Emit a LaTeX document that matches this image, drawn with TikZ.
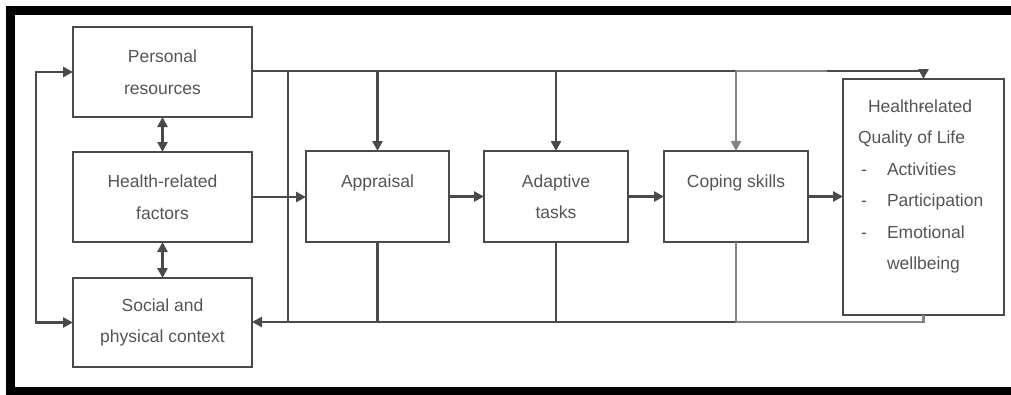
\documentclass[tikz,border=0pt]{standalone}
\usepackage{fontspec}
\setmainfont{Liberation Sans}
\usetikzlibrary{arrows.meta}
\definecolor{linegray}{HTML}{4A4A4A}
\definecolor{lightline}{HTML}{858585}
\definecolor{textgray}{HTML}{555555}
\begin{document}
\begin{tikzpicture}[x=1pt,y=-1pt,
  box/.style={draw=linegray, line width=2.5pt, fill=white, anchor=north west,
    inner sep=0pt, outer sep=0pt, align=center, text=textgray,
    font=\fontsize{17.5}{31.5}\selectfont},
  link/.style={draw=linegray, line width=2.5pt},
  lightlink/.style={draw=lightline, line width=2.5pt},
  tip/.style={-{Triangle[length=10pt,width=10pt]}},
  bothtips/.style={{Triangle[length=10pt,width=10pt]}-{Triangle[length=10pt,width=10pt]}},
  label/.style={text=textgray, inner sep=0pt, outer sep=0pt, align=left,
    font=\fontsize{17.5}{31.5}\selectfont}]
\useasboundingbox (0,0) rectangle (1011,394);
% outer frame, open on the right
\draw[black, line width=8.5pt] (1030,10.5) -- (10.5,10.5) -- (10.5,391) -- (1030,391);

% boxes
\node[box, minimum width=179pt, minimum height=90pt] (personal) at (73,27) {Personal\\resources};
\node[box, minimum width=179pt, minimum height=90pt] (health) at (73,152) {Health-related\\factors};
\node[box, minimum width=179pt, minimum height=89pt] (social) at (73,278) {Social and\\physical context};
\node[box, minimum width=143pt, minimum height=91pt] (appraisal) at (306,151) {Appraisal\\\mbox{}};
\node[box, minimum width=144pt, minimum height=91pt] (adaptive) at (484,151) {Adaptive\\tasks};
\node[box, minimum width=144pt, minimum height=91pt] (coping) at (664,151) {Coping skills\\\mbox{}};
\node[box, minimum width=161pt, minimum height=236pt] (hrqol) at (843,79) {};
\node[label, anchor=north west] (hrqoltext) at (858,99.5)
  {\hspace*{10pt}Health\rlap{-}related\\
   Quality of Life\\
   \makebox[29pt][l]{\hspace*{3pt}-}Activities\\
   \makebox[29pt][l]{\hspace*{3pt}-}Participation\\
   \makebox[29pt][l]{\hspace*{3pt}-}Emotional\\
   \makebox[29pt][l]{}wellbeing};

% junction points of the feedback lines
\coordinate (topjoin) at (288,71);
\coordinate (botjoin) at (288,322);
\coordinate (topsplit) at (coping.north |- topjoin);
\coordinate (topdark) at (827,71);
\coordinate (botsplit) at (coping.south |- botjoin);

% feed-forward line along the top
\draw[link] (personal.east |- topjoin) -- (topsplit);
\draw[lightlink] (topsplit) -- (topdark);
\draw[link, tip] (topdark) -| (hrqol.north);
\draw[link] (topjoin) -- (botjoin);
\draw[link, tip] (appraisal.north |- topjoin) -- (appraisal.north);
\draw[link, tip] (adaptive.north |- topjoin) -- (adaptive.north);
\draw[lightlink, tip] (topsplit) -- (coping.north);

% feedback line along the bottom
\draw[lightlink] (hrqol.south) |- (botsplit);
\draw[link, tip] (botsplit) -- (social.east |- botjoin);
\draw[link] (appraisal.south) -- (appraisal.south |- botjoin);
\draw[link] (adaptive.south) -- (adaptive.south |- botjoin);
\draw[lightlink] (coping.south) -- (botsplit);

% main chain
\draw[link, tip] (health.east) -- (appraisal.west |- health.east);
\draw[link, tip] (appraisal.east) -- (adaptive.west);
\draw[link, tip] (adaptive.east) -- (coping.west);
\draw[link, tip] (coping.east) -- (hrqol.west |- coping.east);

% links among the personal factors
\draw[link, bothtips] (personal.south) -- (health.north);
\draw[link, bothtips] (health.south) -- (social.north);
\draw[link, bothtips] (personal.west) -- ++(-37,0) |- (social.west);
\end{tikzpicture}
\end{document}
